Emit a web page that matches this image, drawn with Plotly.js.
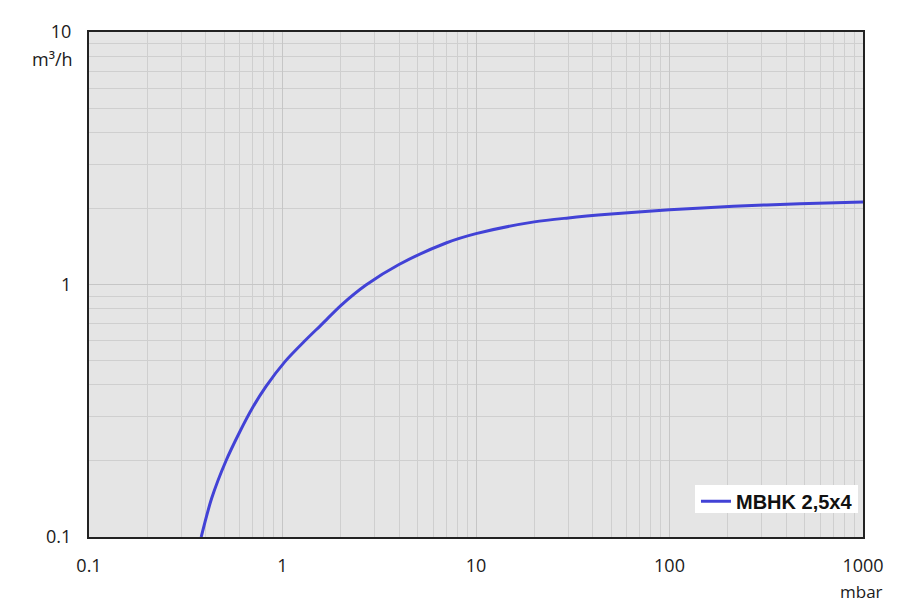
<!DOCTYPE html>
<html>
<head>
<meta charset="utf-8">
<script src="https://cdn.plot.ly/plotly-3.0.1.min.js"></script>
<style>html,body{margin:0;padding:0;background:#fff;}#chart{width:900px;height:602px;}</style>
</head>
<body>
<div id="chart"></div>
<script>
const seriesName = "MBHK 2,5x4";
const pressure = [0.38, 0.43, 0.51, 0.60, 0.70, 0.822, 1.03, 1.31, 1.61, 2.0, 2.7, 4, 7, 10, 20, 30, 50, 100, 214, 472, 1000];
const flow =     [0.10, 0.142, 0.20, 0.26, 0.325, 0.395, 0.495, 0.60, 0.70, 0.825, 0.995, 1.20, 1.46, 1.59, 1.77, 1.835, 1.90, 1.975, 2.04, 2.09, 2.12];
const xTicks = [0.1, 1, 10, 100, 1000];
const xTickText = ["0.1", "1", "10", "100", "1000"];
const yTicks = [0.1, 1, 10];
const yTickText = ["0.1", "1", "10"];
const xUnit = "mbar";
const yUnit = "m³/h";

const tickFont = {family: "Open Sans, Noto Sans, sans-serif", size: 18, color: "#1a1a1a"};

const trace = {
  x: pressure, y: flow, type: "scatter", mode: "lines", name: seriesName,
  line: {color: "rgb(66,66,214)", width: 3, shape: "spline", smoothing: 0.8}
};

const layout = {
  width: 900, height: 602,
  margin: {l: 89, r: 37, t: 32, b: 65},
  paper_bgcolor: "#ffffff",
  plot_bgcolor: "#e5e5e5",
  showlegend: true,
  legend: {
    x: 0.9935, y: 0.032, xanchor: "right", yanchor: "bottom",
    bgcolor: "rgba(0,0,0,0)", borderwidth: 0,
    font: {family: "Liberation Sans Narrow, Arial Narrow, Liberation Sans, sans-serif", size: 20, color: "#111", weight: "bold"},
    itemwidth: 30
  },
  shapes: [
    {type: "rect", xref: "paper", yref: "paper", layer: "above",
     x0: (695 - 89) / 774, x1: (858 - 89) / 774, y0: (537 - 513) / 505, y1: (537 - 485) / 505,
     fillcolor: "#ffffff", line: {width: 0}}
  ],
  xaxis: {
    type: "log", range: [-1, 3],
    tickvals: xTicks, ticktext: xTickText, tickfont: tickFont,
    ticks: "", ticklabelstandoff: 11,
    showgrid: true, gridcolor: "#c6c6c6", gridwidth: 1,
    minor: {dtick: "D1", showgrid: true, gridcolor: "#cfcfcf", gridwidth: 1, ticks: ""},
    showline: true, linecolor: "#222", linewidth: 2, mirror: true, zeroline: false
  },
  yaxis: {
    type: "log", range: [-1, 1],
    tickvals: yTicks, ticktext: yTickText, tickfont: tickFont,
    ticks: "", ticklabelstandoff: 12,
    showgrid: true, gridcolor: "#c6c6c6", gridwidth: 1,
    minor: {dtick: "D1", showgrid: true, gridcolor: "#cfcfcf", gridwidth: 1, ticks: ""},
    showline: true, linecolor: "#222", linewidth: 2, mirror: true, zeroline: false
  },
  annotations: [
    {text: yUnit, xref: "paper", yref: "paper", x: 0, y: 1, xanchor: "right", yanchor: "middle",
     xshift: -14, yshift: -27, showarrow: false, font: tickFont},
    {text: xUnit, xref: "paper", yref: "paper", x: 1, y: 0, xanchor: "right", yanchor: "middle",
     xshift: 22, yshift: -54, showarrow: false, font: {family: tickFont.family, size: 17, color: tickFont.color}}
  ]
};

Plotly.newPlot("chart", [trace], layout, {displayModeBar: false, staticPlot: true});
</script>
</body>
</html>
